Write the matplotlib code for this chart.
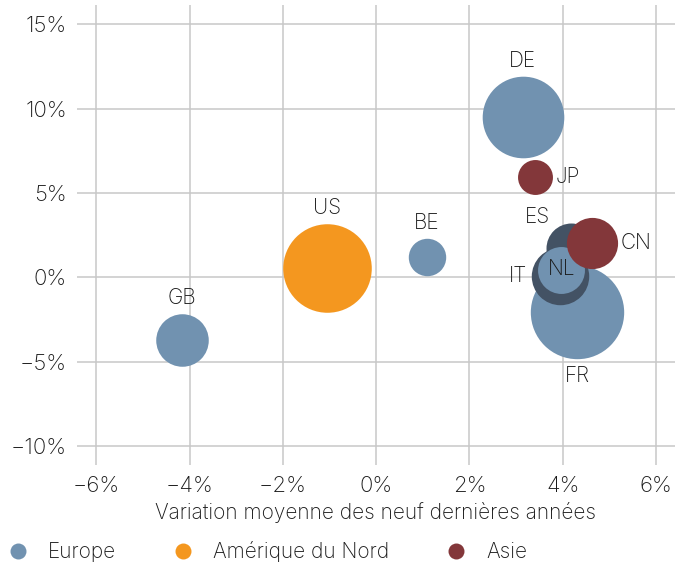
import matplotlib.pyplot as plt
from matplotlib.lines import Line2D

# données
pays = ['GB', 'US', 'BE', 'DE', 'JP', 'FR', 'ES', 'IT', 'NL', 'CN']
variation = [-4.17, -1.06, 1.08, 3.14, 3.40, 4.31, 4.17, 3.95, 3.97, 4.62]
niveau = [-3.70, 0.53, 1.18, 9.47, 5.95, -2.08, 1.75, 0.07, 0.43, 2.00]
poids = [690, 1960, 350, 1665, 305, 2180, 625, 825, 550, 655]
region = ['Europe', 'Amérique du Nord', 'Europe', 'Europe', 'Asie',
          'Europe', 'Europe', 'Europe', 'Europe', 'Asie']
regions = ['Europe', 'Amérique du Nord', 'Asie']
x_ticks = [-6, -4, -2, 0, 2, 4, 6]
y_ticks = [-10, -5, 0, 5, 10, 15]

couleurs = {'Europe': '#7192b0', 'Amérique du Nord': '#f4971f', 'Asie': '#83373a'}
fonce = '#435264'
pays_fonces = ['ES', 'IT']
place = {'GB': 'haut', 'US': 'haut', 'BE': 'haut', 'DE': 'haut', 'JP': 'droite',
         'FR': 'bas', 'ES': 'haut-gauche', 'IT': 'gauche', 'NL': 'centre', 'CN': 'droite'}

plt.rcParams['font.family'] = ['Inter', 'DejaVu Sans']
plt.rcParams['font.weight'] = 'light'
plt.rcParams['axes.labelweight'] = 'light'
texte = '#1a1a1a'

fig = plt.figure(figsize=(6.85, 5.65), dpi=100)
ax = fig.add_axes([0.112, 0.177, 0.873, 0.814])


def fmt(v):
    return ('\u2212' if v < 0 else '') + '%d%%' % abs(v)


for i, p in enumerate(pays):
    c = fonce if p in pays_fonces else couleurs[region[i]]
    s = 2.0736 * poids[i]
    ax.scatter(variation[i], niveau[i], s=s, color=c, linewidths=0, zorder=3 + i)
    r = s ** 0.5 / 2  # rayon en points
    pos = place[p]
    if pos == 'haut':
        off, ha, va = (0, r + 4), 'center', 'bottom'
    elif pos == 'bas':
        off, ha, va = (0, -r - 5), 'center', 'top'
    elif pos == 'droite':
        off, ha, va = (r + 2.5, 0), 'left', 'center'
    elif pos == 'gauche':
        off, ha, va = (-r - 3.5, 0), 'right', 'center'
    elif pos == 'haut-gauche':
        off, ha, va = (-24, 22), 'center', 'center'
    else:
        off, ha, va = (0, 1), 'center', 'center'
    ax.annotate(p, (variation[i], niveau[i]), xytext=off, textcoords='offset points',
                ha=ha, va=va, fontsize=15, color=texte, zorder=20)

ax.set_xlim(-6.42, 6.40)
ax.set_ylim(-11.13, 16.13)
ax.set_xticks(x_ticks)
ax.set_xticklabels([fmt(v) for v in x_ticks])
ax.set_yticks(y_ticks)
ax.set_yticklabels([fmt(v) for v in y_ticks])
ax.tick_params(length=0, labelsize=16, colors=texte)
ax.tick_params(axis='x', pad=8)
ax.tick_params(axis='y', pad=7)
ax.grid(True, color='#c8c8c8', linewidth=1.1)
ax.set_axisbelow(True)
for sp in ax.spines.values():
    sp.set_visible(False)
ax.set_xlabel('Variation moyenne des neuf dernières années', fontsize=15, color=texte, labelpad=4)

poignees = [Line2D([], [], linestyle='none', marker='o', markersize=11.5,
                   markerfacecolor=couleurs[r], markeredgewidth=0) for r in regions]
fig.legend(poignees, regions, loc='center left', bbox_to_anchor=(9.7 / 685, 1 - 552 / 565),
           ncol=3, frameon=False, fontsize=15, handlelength=0.8, handletextpad=1.04,
           columnspacing=2.82, borderpad=0, borderaxespad=0, labelcolor=texte)

fig.savefig('out.png', dpi=100)
